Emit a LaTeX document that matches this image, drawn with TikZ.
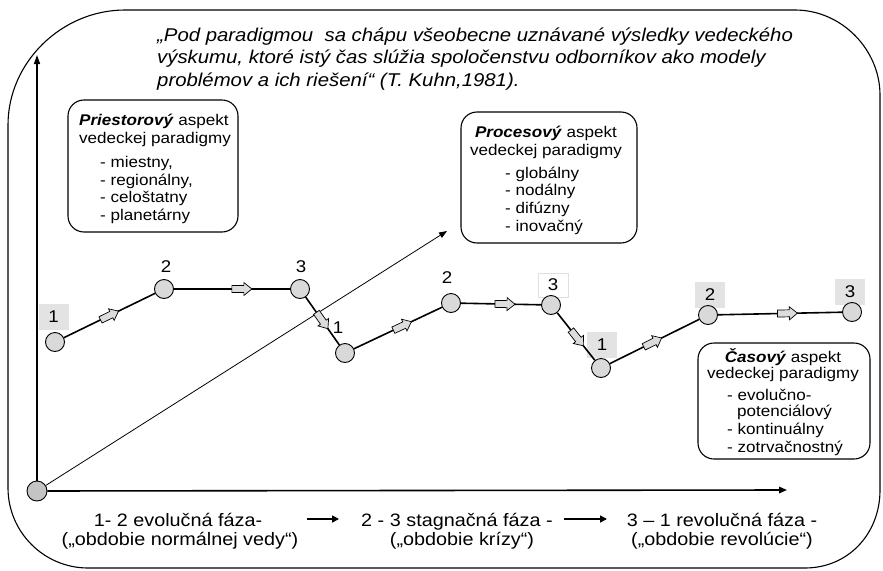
\documentclass[tikz,border=0pt]{standalone}
\usepackage{fontspec}
\setmainfont{Liberation Sans}[FakeStretch=1.1]
\usetikzlibrary{arrows.meta}
\definecolor{circfill}{HTML}{D9D9D9}
\definecolor{origfill}{HTML}{C4C4C4}
\definecolor{labfill}{HTML}{E3E3E3}
\definecolor{arrfill}{HTML}{DCDCDC}
\begin{document}
\begin{tikzpicture}[x=1pt,y=-1pt,
  ptn/.style={circle, draw, line width=0.9pt, fill=circfill, minimum size=19pt, inner sep=0pt},
  lab/.style={font=\fontsize{17}{17}\selectfont, inner sep=0pt},
  labbox/.style={lab, fill=labfill, minimum width=30pt, minimum height=26pt},
  aspect/.style={draw, rounded corners=16pt, line width=1.1pt},
  btxt/.style={font=\fontsize{15.5}{17.7}\selectfont, inner sep=0pt, anchor=base west},
  bctr/.style={font=\fontsize{15.5}{17.7}\selectfont, inner sep=0pt, anchor=base},
  qtxt/.style={font=\fontsize{18.5}{22}\selectfont\itshape, inner sep=0pt, anchor=base west},
  bot/.style={font=\fontsize{18}{20}\selectfont, inner sep=0pt, anchor=base},
  seg/.style={line width=1.6pt},
  barrow/.pic={\draw[fill=arrfill, line width=0.7pt, line join=miter] (-10pt,-3.5pt) -- (2pt,-3.5pt) -- (2pt,-6.5pt) -- (10pt,0pt) -- (2pt,6.5pt) -- (2pt,3.5pt) -- (-10pt,3.5pt) -- cycle;},
]
\useasboundingbox (0,0) rectangle (883,570);
% outer frame
\draw[line width=1.1pt] (8,300) -- (8,125) .. controls (8,62) and (62,10) .. (125,10) -- (795,10)
  .. controls (842,10) and (880,50) .. (880,95) -- (880,490)
  .. controls (880,534) and (848,568) .. (805,568) -- (88,568)
  .. controls (44,568) and (8,532) .. (8,488) -- cycle;

% quote
\node[qtxt] (q1) at (157,41) {„Pod paradigmou\ \ sa chápu všeobecne uznávané výsledky vedeckého};
\node[qtxt] (q2) at (157,63.5) {výskumu, ktoré istý čas slúžia spoločenstvu odborníkov ako modely};
\node[qtxt] (q3) at (157,86) {problémov a ich riešení“ (T. Kuhn,1981).};

% axes
\coordinate (ytip) at (37,55);
\coordinate (xtip) at (787,490);
\coordinate (dtip) at (447,231);
\node[circle, draw, line width=0.9pt, fill=origfill, minimum size=20pt, inner sep=0pt] (o) at (37,491) {};
\draw[line width=1.4pt, -{Triangle[length=9pt,width=6pt]}] (o) -- (ytip);
\draw[line width=1.6pt, -{Triangle[length=8pt,width=6.5pt]}] (o) -- (xtip);
\draw[line width=0.8pt, -{Triangle[length=8pt,width=6pt]}] (o) -- (dtip);

% aspect boxes
\node[aspect, minimum width=170pt, minimum height=132pt] (pbox) at (153,166) {};
\node[btxt] (p1) at (79,125) {\textbf{\textit{Priestorový}} aspekt};
\node[btxt] (p2) at (79,143) {vedeckej paradigmy};
\node[btxt] (p3) at (100,167) {- miestny,};
\node[btxt] (p4) at (100,185) {- regionálny,};
\node[btxt] (p5) at (100,202.5) {- celoštatny};
\node[btxt] (p6) at (100,220) {- planetárny};

\node[aspect, minimum width=176pt, minimum height=131pt] (rbox) at (549,177.5) {};
\node[bctr] (r1) at (546,137) {\textbf{\textit{Procesový}} aspekt};
\node[bctr] (r2) at (546,155) {vedeckej paradigmy};
\node[btxt] (r3) at (505,178) {- globálny};
\node[btxt] (r4) at (505,195.5) {- nodálny};
\node[btxt] (r5) at (505,213) {- difúzny};
\node[btxt] (r6) at (505,231) {- inovačný};

\node[aspect, minimum width=172pt, minimum height=116pt] (cbox) at (784,401) {};
\node[bctr] (c1) at (783,362) {\textbf{\textit{Časový}} aspekt};
\node[bctr] (c2) at (783,378.5) {vedeckej paradigmy};
\node[btxt] (c3) at (727,400) {- evolučno-};
\node[btxt] (c4) at (737,416.5) {potenciálový};
\node[btxt] (c5) at (727,434) {- kontinuálny};
\node[btxt] (c6) at (727,452) {- zotrvačnostný};

% labels
\node[labbox] (l1a) at (53.5,317) {1};
\node[lab] (l2a) at (166,267) {2};
\node[lab] (l3a) at (301,267) {3};
\node[lab] (l1b) at (338,328) {1};
\node[lab] (l2b) at (447,278) {2};
\node[lab, draw=black!12, minimum width=30pt, minimum height=24pt] (l3b) at (553,285) {3};
\node[labbox] (l1c) at (602,345) {1};
\node[labbox] (l2c) at (710,295) {2};
\node[labbox] (l3c) at (850,291.5) {3};

% points
\node[ptn] (c1a) at (55,342) {};
\node[ptn] (c2a) at (164,289) {};
\node[ptn] (c3a) at (300,289) {};
\node[ptn] (c1b) at (345,353) {};
\node[ptn] (c2b) at (451,303) {};
\node[ptn] (c3b) at (551,305) {};
\node[ptn] (c1c) at (601,368) {};
\node[ptn] (c2c) at (708,315) {};
\node[ptn] (c3c) at (852,312) {};

\draw[seg] (c1a) -- pic[pos=0.5, sloped]{barrow} (c2a);
\draw[seg] (c2a) -- pic[pos=0.585, sloped]{barrow} (c3a);
\draw[seg] (c3a) -- pic[pos=0.49, sloped]{barrow} (c1b);
\draw[seg] (c1b) -- pic[pos=0.55, sloped]{barrow} (c2b);
\draw[seg] (c2b) -- pic[pos=0.55, sloped]{barrow} (c3b);
\draw[seg] (c3b) -- pic[pos=0.53, sloped]{barrow} (c1c);
\draw[seg] (c1c) -- pic[pos=0.48, sloped]{barrow} (c2c);
\draw[seg] (c2c) -- pic[pos=0.56, sloped]{barrow} (c3c);

% bottom phases
\node[bot] (b1) at (178,526) {1- 2 evolučná fáza-};
\node[bot] (b2) at (180,545) {(„obdobie normálnej vedy“)};
\node[bot] (b3) at (457,526) {2 - 3 stagnačná fáza -};
\node[bot] (b4) at (462,545) {(„obdobie krízy“)};
\node[bot] (b5) at (722,526) {3 – 1 revolučná fáza -};
\node[bot] (b6) at (722,545) {(„obdobie revolúcie“)};
\coordinate (ba1s) at (307,519);
\coordinate (ba1e) at (339,519);
\coordinate (ba2s) at (564,519);
\coordinate (ba2e) at (607,519);
\draw[line width=1.5pt, -{Triangle[length=7pt,width=7pt]}] (ba1s) -- (ba1e);
\draw[line width=1.5pt, -{Triangle[length=7pt,width=7pt]}] (ba2s) -- (ba2e);
\end{tikzpicture}
\end{document}
